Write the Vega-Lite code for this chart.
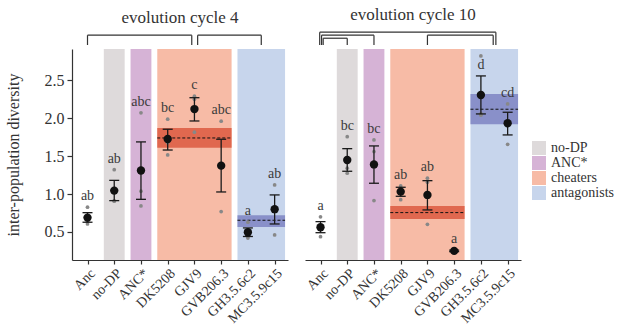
{
  "$schema": "https://vega.github.io/schema/vega-lite/v6.json",
  "background": "white",
  "padding": {"left": 5, "right": 5, "top": 5, "bottom": 3},
  "spacing": 16,
  "config": {
    "font": "Liberation Serif, Times New Roman, serif",
    "view": {"stroke": null},
    "axis": {"grid": false, "labelOverlap": false, "domainColor": "#333333", "tickColor": "#333333", "labelColor": "#333333", "titleColor": "#333333", "titleFontWeight": "normal", "domainWidth": 1.2, "tickWidth": 1.2, "labelFont": "Liberation Serif, Times New Roman, serif", "titleFont": "Liberation Serif, Times New Roman, serif"},
    "axisX": {"labelOverlap": false, "labelAngle": -45, "labelAlign": "right", "labelBaseline": "top", "labelFontSize": 14, "tickSize": 4, "labelPadding": 2, "labelBound": false},
    "title": {"font": "Liberation Serif, Times New Roman, serif", "fontWeight": "normal", "color": "#333333", "fontSize": 17},
    "legend": {"labelFont": "Liberation Serif, Times New Roman, serif"},
    "text": {"font": "Liberation Serif, Times New Roman, serif"}
  },
  "datasets": {
    "stats": [
      {"panel": 4, "idx": 1, "cat": "Anc", "mean": 0.689, "lo": 0.628, "hi": 0.754, "p1": 0.826, "p2": 0.605, "p3": 0.64, "letter": "ab"},
      {"panel": 4, "idx": 2, "cat": "no-DP", "mean": 1.045, "lo": 0.913, "hi": 1.18, "p1": 1.32, "p2": 0.91, "p3": 0.905, "letter": "ab"},
      {"panel": 4, "idx": 3, "cat": "ANC*", "mean": 1.31, "lo": 0.93, "hi": 1.687, "p1": 2.07, "p2": 1.037, "p3": 0.843, "letter": "abc"},
      {"panel": 4, "idx": 4, "cat": "DK5208", "mean": 1.726, "lo": 1.58, "hi": 1.854, "p1": 1.986, "p2": 1.515, "p3": 1.677, "letter": "bc"},
      {"panel": 4, "idx": 5, "cat": "GJV9", "mean": 2.12, "lo": 1.963, "hi": 2.27, "p1": 1.815, "p2": 2.29, "p3": 2.25, "letter": "c"},
      {"panel": 4, "idx": 6, "cat": "GVB206.3", "mean": 1.374, "lo": 1.027, "hi": 1.722, "p1": 1.96, "p2": 0.768, "p3": 1.394, "letter": "abc"},
      {"panel": 4, "idx": 7, "cat": "GH3.5.6c2", "mean": 0.496, "lo": 0.44, "hi": 0.553, "p1": 0.628, "p2": 0.44, "p3": 0.42, "letter": "a"},
      {"panel": 4, "idx": 8, "cat": "MC3.5.9c15", "mean": 0.8, "lo": 0.605, "hi": 0.988, "p1": 1.12, "p2": 0.46, "p3": 0.82, "letter": "ab"},
      {"panel": 10, "idx": 1, "cat": "Anc", "mean": 0.562, "lo": 0.49, "hi": 0.636, "p1": 0.7, "p2": 0.438, "p3": 0.548, "letter": "a"},
      {"panel": 10, "idx": 2, "cat": "no-DP", "mean": 1.449, "lo": 1.3, "hi": 1.598, "p1": 1.756, "p2": 1.34, "p3": 1.274, "letter": "bc"},
      {"panel": 10, "idx": 3, "cat": "ANC*", "mean": 1.39, "lo": 1.142, "hi": 1.634, "p1": 1.713, "p2": 1.559, "p3": 0.913, "letter": "bc"},
      {"panel": 10, "idx": 4, "cat": "DK5208", "mean": 1.031, "lo": 0.97, "hi": 1.089, "p1": 1.106, "p2": 0.926, "p3": 1.06, "letter": "ab"},
      {"panel": 10, "idx": 5, "cat": "GJV9", "mean": 0.988, "lo": 0.79, "hi": 1.176, "p1": 1.208, "p2": 0.6, "p3": 1.156, "letter": "ab"},
      {"panel": 10, "idx": 6, "cat": "GVB206.3", "mean": 0.25, "lo": 0.24, "hi": 0.26, "p1": 0.245, "p2": 0.25, "p3": 0.255, "letter": "a"},
      {"panel": 10, "idx": 7, "cat": "GH3.5.6c2", "mean": 2.306, "lo": 2.056, "hi": 2.557, "p1": 2.82, "p2": 2.06, "p3": 2.04, "letter": "d"},
      {"panel": 10, "idx": 8, "cat": "MC3.5.9c15", "mean": 1.933, "lo": 1.779, "hi": 2.078, "p1": 2.188, "p2": 1.656, "p3": 1.96, "letter": "cd"}
    ],
    "groups": [
      {"panel": 4, "group": "no-DP", "first": 2, "last": 2},
      {"panel": 4, "group": "ANC*", "first": 3, "last": 3},
      {"panel": 4, "group": "cheaters", "first": 4, "last": 6},
      {"panel": 4, "group": "antagonists", "first": 7, "last": 8},
      {"panel": 10, "group": "no-DP", "first": 2, "last": 2},
      {"panel": 10, "group": "ANC*", "first": 3, "last": 3},
      {"panel": 10, "group": "cheaters", "first": 4, "last": 6},
      {"panel": 10, "group": "antagonists", "first": 7, "last": 8}
    ],
    "bands": [
      {"panel": 4, "group": "cheaters", "first": 4, "last": 6, "lo": 1.611, "hi": 1.871, "mean": 1.739},
      {"panel": 4, "group": "antagonists", "first": 7, "last": 8, "lo": 0.566, "hi": 0.72, "mean": 0.654},
      {"panel": 10, "group": "cheaters", "first": 4, "last": 6, "lo": 0.671, "hi": 0.843, "mean": 0.755},
      {"panel": 10, "group": "antagonists", "first": 7, "last": 8, "lo": 1.92, "hi": 2.32, "mean": 2.118}
    ],
    "brackets": [
      {"panel": 4, "from": 1, "to": 4.9, "level": 1},
      {"panel": 4, "from": 5.12, "to": 7.5, "level": 1},
      {"panel": 10, "from": 0.97, "to": 7.56, "level": 2},
      {"panel": 10, "from": 1.04, "to": 3.0, "level": 1},
      {"panel": 10, "from": 1.1, "to": 2.0, "level": 0},
      {"panel": 10, "from": 5.0, "to": 7.46, "level": 1}
    ]
  },
  "hconcat": [
    {
      "width": 216,
      "height": 211,
      "title": {"text": "evolution cycle 4", "offset": 8},
      "layer": [
        {
          "data": {"name": "groups"},
          "transform": [{"filter": "datum.panel == 4"}, {"calculate": "datum.first - 0.39", "as": "x0"}, {"calculate": "datum.last + 0.39", "as": "x1"}, {"calculate": "0.13", "as": "ylo"}, {"calculate": "2.912", "as": "yhi"}],
          "mark": {"type": "rect", "strokeWidth": 0},
          "encoding": {
            "x": {"field": "x0", "type": "quantitative", "scale": {"domain": [0.42, 8.5], "nice": false, "zero": false},
                  "axis": {"title": null, "values": [1, 2, 3, 4, 5, 6, 7, 8], "tickCount": 8, "labelExpr": "['Anc','no-DP','ANC*','DK5208','GJV9','GVB206.3','GH3.5.6c2','MC3.5.9c15'][datum.value - 1]", "labelOverlap": false}},
            "x2": {"field": "x1"},
            "y": {"field": "ylo", "type": "quantitative", "scale": {"domain": [0.13, 2.912], "nice": false, "zero": false},
                  "axis": {"title": "inter-population diversity", "titleFontSize": 16, "values": [0.5, 1, 1.5, 2, 2.5], "tickCount": 5, "format": ".1f", "labelFontSize": 16, "tickSize": 5, "labelPadding": 3, "titlePadding": 23}},
            "y2": {"field": "yhi"},
            "color": {"field": "group", "type": "nominal",
                      "scale": {"domain": ["no-DP", "ANC*", "cheaters", "antagonists"], "range": ["#dedadb", "#d6b3d6", "#f7bba6", "#c7d5ec"]},
                      "legend": {"title": null, "orient": "none", "legendX": 460, "legendY": 92, "symbolType": "square", "symbolSize": 196, "symbolStrokeWidth": 0, "labelFontSize": 14, "labelColor": "#333333", "rowPadding": 1, "labelOffset": 5}}
          }
        },
        {
          "data": {"name": "bands"},
          "transform": [{"filter": "datum.panel == 4"}, {"calculate": "datum.first - 0.39", "as": "x0"}, {"calculate": "datum.last + 0.39", "as": "x1"}],
          "mark": {"type": "rect", "opacity": 1},
          "encoding": {
            "x": {"field": "x0", "type": "quantitative"},
            "x2": {"field": "x1"},
            "y": {"field": "lo", "type": "quantitative"},
            "y2": {"field": "hi"},
            "fill": {"field": "group", "type": "nominal", "scale": {"domain": ["cheaters", "antagonists"], "range": ["#e0684f", "#8990c9"]}, "legend": null}
          }
        },
        {
          "data": {"name": "bands"},
          "transform": [{"filter": "datum.panel == 4"}, {"calculate": "datum.first - 0.39", "as": "x0"}, {"calculate": "datum.last + 0.39", "as": "x1"}],
          "mark": {"type": "rule", "strokeDash": [3, 2], "color": "#111111", "strokeWidth": 1},
          "encoding": {"x": {"field": "x0", "type": "quantitative"}, "x2": {"field": "x1"}, "y": {"field": "mean", "type": "quantitative"}}
        },
        {
          "data": {"name": "brackets"},
          "transform": [{"filter": "datum.panel == 4"}, {"calculate": "3.054 + 0.04 * datum.level", "as": "by"}],
          "mark": {"type": "rule", "color": "#333333", "strokeWidth": 1.2},
          "encoding": {"x": {"field": "from", "type": "quantitative"}, "x2": {"field": "to"}, "y": {"field": "by", "type": "quantitative"}}
        },
        {
          "data": {"name": "brackets"},
          "transform": [{"filter": "datum.panel == 4"}, {"calculate": "3.054 + 0.04 * datum.level", "as": "by"}, {"calculate": "2.965", "as": "bb"}, {"fold": ["from", "to"], "as": ["end", "bx"]}],
          "mark": {"type": "rule", "color": "#333333", "strokeWidth": 1.2},
          "encoding": {"x": {"field": "bx", "type": "quantitative"}, "y": {"field": "by", "type": "quantitative"}, "y2": {"field": "bb"}}
        },
        {
          "data": {"name": "stats"},
          "transform": [{"filter": "datum.panel == 4"}, {"fold": ["p1", "p2", "p3"], "as": ["rep", "value"]}],
          "mark": {"type": "circle", "size": 14, "color": "#888888", "opacity": 1},
          "encoding": {"x": {"field": "idx", "type": "quantitative"}, "y": {"field": "value", "type": "quantitative"}}
        },
        {
          "data": {"name": "stats"},
          "transform": [{"filter": "datum.panel == 4"}],
          "mark": {"type": "rule", "color": "#1a1a1a", "strokeWidth": 1.3},
          "encoding": {"x": {"field": "idx", "type": "quantitative"}, "y": {"field": "lo", "type": "quantitative"}, "y2": {"field": "hi"}}
        },
        {
          "data": {"name": "stats"},
          "transform": [{"filter": "datum.panel == 4"}, {"fold": ["lo", "hi"], "as": ["end", "cap"]}],
          "mark": {"type": "tick", "orient": "horizontal", "size": 10, "thickness": 1.3, "color": "#1a1a1a", "opacity": 1},
          "encoding": {"x": {"field": "idx", "type": "quantitative"}, "y": {"field": "cap", "type": "quantitative"}}
        },
        {
          "data": {"name": "stats"},
          "transform": [{"filter": "datum.panel == 4"}],
          "mark": {"type": "circle", "size": 70, "color": "#111111", "opacity": 1},
          "encoding": {"x": {"field": "idx", "type": "quantitative"}, "y": {"field": "mean", "type": "quantitative"}}
        },
        {
          "data": {"name": "stats"},
          "transform": [{"filter": "datum.panel == 4"}, {"calculate": "min(max(datum.p1, datum.p2, datum.p3, datum.hi), 2.55)", "as": "ly"}],
          "mark": {"type": "text", "baseline": "bottom", "dy": -4, "fontSize": 14, "color": "#3b3b3b"},
          "encoding": {"x": {"field": "idx", "type": "quantitative"}, "y": {"field": "ly", "type": "quantitative"}, "text": {"field": "letter"}}
        }
      ]
    },
    {
      "width": 216,
      "height": 211,
      "title": {"text": "evolution cycle 10", "offset": 8},
      "layer": [
        {
          "data": {"name": "groups"},
          "transform": [{"filter": "datum.panel == 10"}, {"calculate": "datum.first - 0.39", "as": "x0"}, {"calculate": "datum.last + 0.39", "as": "x1"}, {"calculate": "0.13", "as": "ylo"}, {"calculate": "2.912", "as": "yhi"}],
          "mark": {"type": "rect", "strokeWidth": 0},
          "encoding": {
            "x": {"field": "x0", "type": "quantitative", "scale": {"domain": [0.42, 8.5], "nice": false, "zero": false},
                  "axis": {"title": null, "values": [1, 2, 3, 4, 5, 6, 7, 8], "tickCount": 8, "labelExpr": "['Anc','no-DP','ANC*','DK5208','GJV9','GVB206.3','GH3.5.6c2','MC3.5.9c15'][datum.value - 1]", "labelOverlap": false}},
            "x2": {"field": "x1"},
            "y": {"field": "ylo", "type": "quantitative", "scale": {"domain": [0.13, 2.912], "nice": false, "zero": false}, "axis": null},
            "y2": {"field": "yhi"},
            "color": {"field": "group", "type": "nominal",
                      "scale": {"domain": ["no-DP", "ANC*", "cheaters", "antagonists"], "range": ["#dedadb", "#d6b3d6", "#f7bba6", "#c7d5ec"]},
                      "legend": null}
          }
        },
        {
          "data": {"name": "bands"},
          "transform": [{"filter": "datum.panel == 10"}, {"calculate": "datum.first - 0.39", "as": "x0"}, {"calculate": "datum.last + 0.39", "as": "x1"}],
          "mark": {"type": "rect", "opacity": 1},
          "encoding": {
            "x": {"field": "x0", "type": "quantitative"},
            "x2": {"field": "x1"},
            "y": {"field": "lo", "type": "quantitative", "axis": null},
            "y2": {"field": "hi"},
            "fill": {"field": "group", "type": "nominal", "scale": {"domain": ["cheaters", "antagonists"], "range": ["#e0684f", "#8990c9"]}, "legend": null}
          }
        },
        {
          "data": {"name": "bands"},
          "transform": [{"filter": "datum.panel == 10"}, {"calculate": "datum.first - 0.39", "as": "x0"}, {"calculate": "datum.last + 0.39", "as": "x1"}],
          "mark": {"type": "rule", "strokeDash": [3, 2], "color": "#111111", "strokeWidth": 1},
          "encoding": {"x": {"field": "x0", "type": "quantitative"}, "x2": {"field": "x1"}, "y": {"field": "mean", "type": "quantitative", "axis": null}}
        },
        {
          "data": {"name": "brackets"},
          "transform": [{"filter": "datum.panel == 10"}, {"calculate": "3.054 + 0.04 * datum.level", "as": "by"}],
          "mark": {"type": "rule", "color": "#333333", "strokeWidth": 1.2},
          "encoding": {"x": {"field": "from", "type": "quantitative"}, "x2": {"field": "to"}, "y": {"field": "by", "type": "quantitative", "axis": null}}
        },
        {
          "data": {"name": "brackets"},
          "transform": [{"filter": "datum.panel == 10"}, {"calculate": "3.054 + 0.04 * datum.level", "as": "by"}, {"calculate": "2.965", "as": "bb"}, {"fold": ["from", "to"], "as": ["end", "bx"]}],
          "mark": {"type": "rule", "color": "#333333", "strokeWidth": 1.2},
          "encoding": {"x": {"field": "bx", "type": "quantitative"}, "y": {"field": "by", "type": "quantitative", "axis": null}, "y2": {"field": "bb"}}
        },
        {
          "data": {"name": "stats"},
          "transform": [{"filter": "datum.panel == 10"}, {"fold": ["p1", "p2", "p3"], "as": ["rep", "value"]}],
          "mark": {"type": "circle", "size": 14, "color": "#888888", "opacity": 1},
          "encoding": {"x": {"field": "idx", "type": "quantitative"}, "y": {"field": "value", "type": "quantitative", "axis": null}}
        },
        {
          "data": {"name": "stats"},
          "transform": [{"filter": "datum.panel == 10"}],
          "mark": {"type": "rule", "color": "#1a1a1a", "strokeWidth": 1.3},
          "encoding": {"x": {"field": "idx", "type": "quantitative"}, "y": {"field": "lo", "type": "quantitative", "axis": null}, "y2": {"field": "hi"}}
        },
        {
          "data": {"name": "stats"},
          "transform": [{"filter": "datum.panel == 10"}, {"fold": ["lo", "hi"], "as": ["end", "cap"]}],
          "mark": {"type": "tick", "orient": "horizontal", "size": 10, "thickness": 1.3, "color": "#1a1a1a", "opacity": 1},
          "encoding": {"x": {"field": "idx", "type": "quantitative"}, "y": {"field": "cap", "type": "quantitative", "axis": null}}
        },
        {
          "data": {"name": "stats"},
          "transform": [{"filter": "datum.panel == 10"}],
          "mark": {"type": "circle", "size": 70, "color": "#111111", "opacity": 1},
          "encoding": {"x": {"field": "idx", "type": "quantitative"}, "y": {"field": "mean", "type": "quantitative", "axis": null}}
        },
        {
          "data": {"name": "stats"},
          "transform": [{"filter": "datum.panel == 10"}, {"calculate": "min(max(datum.p1, datum.p2, datum.p3, datum.hi), 2.55)", "as": "ly"}],
          "mark": {"type": "text", "baseline": "bottom", "dy": -4, "fontSize": 14, "color": "#3b3b3b"},
          "encoding": {"x": {"field": "idx", "type": "quantitative"}, "y": {"field": "ly", "type": "quantitative", "axis": null}, "text": {"field": "letter"}}
        }
      ]
    }
  ],
  "resolve": {"scale": {"color": "shared", "fill": "independent", "x": "independent", "y": "independent"}}
}
